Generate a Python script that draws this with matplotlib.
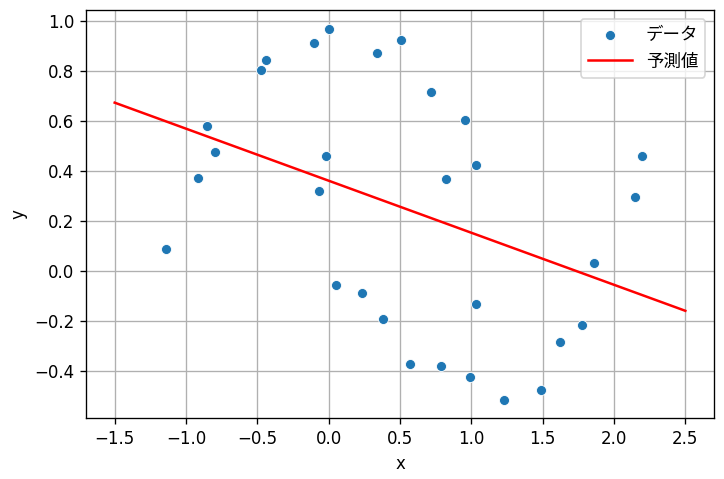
import matplotlib
matplotlib.use("Agg")
import matplotlib.pyplot as plt

plt.rcParams["font.family"] = ["DejaVu Sans", "Noto Sans CJK JP"]

# observed points
data_x = [-1.141, -0.918, -0.855, -0.800, -0.471, -0.436, -0.106, -0.001,
          -0.017, -0.066, 0.338, 0.506, 0.717, 0.957, 1.034, 0.825,
          2.197, 2.144, 0.052, 0.234, 0.378, 0.573, 0.785, 0.992,
          1.034, 1.227, 1.490, 1.620, 1.776, 1.858]
data_y = [0.088, 0.372, 0.580, 0.476, 0.804, 0.844, 0.909, 0.968,
          0.460, 0.317, 0.872, 0.924, 0.713, 0.601, 0.421, 0.368,
          0.460, 0.295, -0.057, -0.087, -0.192, -0.372, -0.379, -0.424,
          -0.132, -0.515, -0.477, -0.283, -0.215, 0.033]

# fitted line
pred_x = [-1.5, 2.5]
pred_y = [0.672, -0.160]

fig, ax = plt.subplots(figsize=(724 / 120, 479 / 120), dpi=120)
fig.subplots_adjust(left=0.119, right=0.986, top=0.979, bottom=0.127)

ax.scatter(data_x, data_y, s=36, color="#1f77b4", edgecolor="white",
           linewidth=0.5, label="データ", zorder=3)
ax.plot(pred_x, pred_y, color="red", linewidth=1.5, label="予測値", zorder=2)

ax.set_xlabel("x")
ax.set_ylabel("y")
ax.grid(True)
ax.legend(loc="upper right", fontsize=10.5, handlelength=2.5)

fig.savefig("out.png", dpi=120)
